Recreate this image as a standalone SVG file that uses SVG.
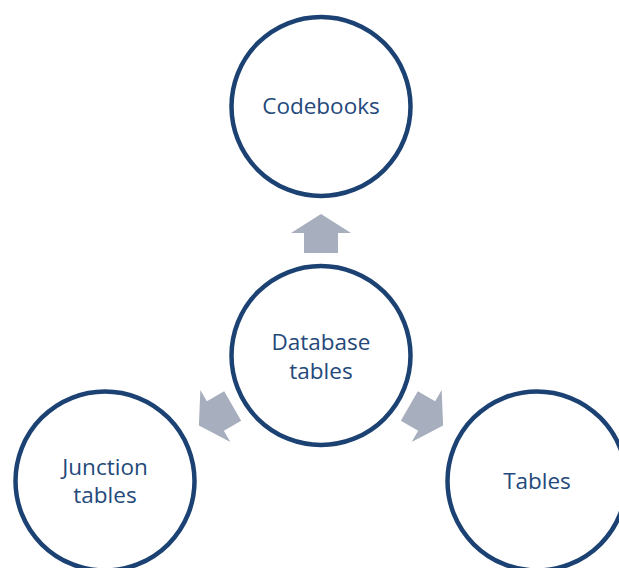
<svg xmlns="http://www.w3.org/2000/svg" width="619" height="568" viewBox="0 0 619 568">
<style>
.node{fill:#ffffff;stroke:#1c4273;stroke-width:4.5}
.lbl{font-family:"Open Sans","Liberation Sans",sans-serif;font-size:22.5px;fill:#24497a;text-anchor:middle}
.arr{fill:#a7aebd}
</style>
<defs>
<polygon id="arrow" points="321,214 351,233 338,233 338,253 304,253 304,233 291,233"/>
</defs>
<rect width="619" height="568" fill="#ffffff"/>
<g id="connectors">
<use href="#arrow" class="arr"/>
<use href="#arrow" class="arr" transform="rotate(-120 321 355)"/>
<use href="#arrow" class="arr" transform="rotate(120 321 355)"/>
</g>
<g id="codebooks">
<circle class="node" cx="321" cy="106.5" r="89.5"/>
<text class="lbl" x="321" y="114">Codebooks</text>
</g>
<g id="database-tables">
<circle class="node" cx="321" cy="355.5" r="89.5"/>
<text class="lbl" x="321" y="350">Database</text>
<text class="lbl" x="321" y="379">tables</text>
</g>
<g id="junction-tables">
<circle class="node" cx="105" cy="481" r="89.5"/>
<text class="lbl" x="105" y="475">Junction</text>
<text class="lbl" x="105" y="503">tables</text>
</g>
<g id="tables">
<circle class="node" cx="537" cy="481" r="89.5"/>
<text class="lbl" x="537" y="489">Tables</text>
</g>
</svg>
